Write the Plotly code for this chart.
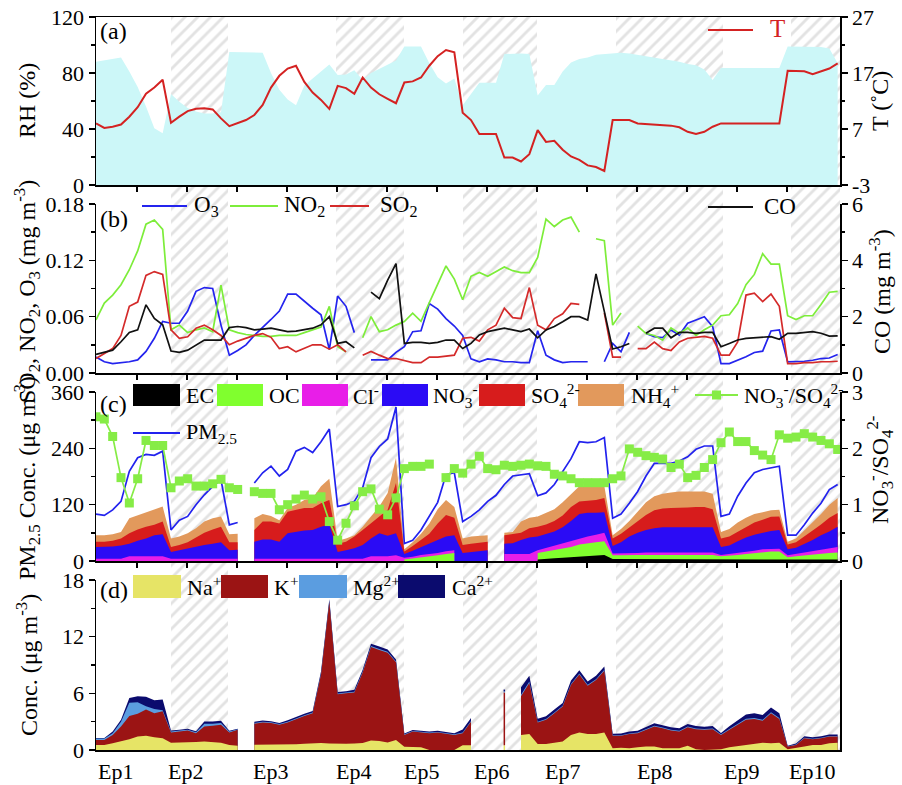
import plotly.graph_objects as go

N = 90
IDX = list(range(N))
FONT = "Liberation Serif"

# ---------------- panel (a) ----------------
RH = [88, 89, 90, 91, 81, 70, 56, 40.5, 37, 65,
      59.5, 55, 52.5, 51, 51, 52, 95, 95, 95, 95,
      94.5, 80, 68, 61, 57, 71, 76, 81, 86, 78.5,
      79, 82, 75, 80, 83, 86, 89, 99, 99, 99,
      87, 77, 72.5, 76, 57, 65, 73, 73, 73, 93.5,
      94, 94, 93.5, 64, 71.5, 71.5, 81, 87.5, 90, 91,
      93, 93.5, 94.5, 94.5, 94, 93, 92, 91.5, 90.5, 89,
      88, 86.5, 85.5, 82.5, 75, 83.5, 83.5, 83.5, 83.5, 83.5,
      83.5, 83.5, 83.5, 99, 99, 99, 99, 98.5, 97.5, 87]
T = [8.0, 7.2, 7.4, 7.8, 9.2, 10.9, 13.3, 14.4, 15.8, 8.1,
     9.2, 10.2, 10.6, 10.7, 10.5, 8.9, 7.5, 8.0, 8.6, 9.5,
     11.3, 14.4, 16.5, 17.8, 18.3, 15.4, 13.5, 12.2, 10.6, 14.7,
     14.3, 13.3, 16.2, 14.4, 13.2, 12.4, 11.6, 15.3, 15.5, 16.2,
     18.3, 20.0, 21.1, 20.7, 9.9, 8.6, 6.1, 6.1, 6.1, 1.9,
     1.9, 1.2, 2.5, 6.8, 4.7, 4.9, 3.3, 2.1, 1.5, 0.5,
     0.2, -0.5, 8.6, 8.6, 8.6, 8.0, 7.9, 7.9, 7.8, 7.6,
     7.3, 6.5, 6.1, 6.5, 7.4, 8.0, 8.0, 8.0, 8.0, 8.0,
     8.0, 8.0, 8.0, 17.4, 17.4, 17.3, 16.8, 17.3, 17.8, 18.7]

# ---------------- panel (b) ----------------
O3 = [0.017, 0.012, 0.010, 0.011, 0.012, 0.014, 0.023, 0.037, 0.055, 0.053,
      0.053, 0.066, 0.087, 0.091, 0.090, 0.051, 0.019, 0.024, 0.030, 0.040,
      0.048, 0.057, 0.066, 0.084, 0.084, 0.076, 0.069, 0.062, 0.025, 0.082,
      0.071, 0.043, None, 0.014, 0.014, 0.014, 0.022, 0.028, 0.044, 0.045,
      0.074, 0.068, 0.058, 0.050, 0.040, 0.015, 0.012, 0.015, 0.014, 0.012,
      0.012, 0.011, 0.011, 0.045, 0.019, 0.014, 0.011, 0.012, 0.012, 0.012,
      None, 0.012, 0.0315, 0.0225, 0.0433, None, 0.0422, 0.0386, 0.0376, 0.0458,
      0.0404, 0.053, 0.0565, 0.060, 0.0494, 0.010, 0.010, 0.0136, 0.0172, 0.0218,
      0.0233, 0.0447, 0.0458, 0.0118, 0.0118, 0.0125, 0.0136, 0.0154, 0.016, 0.0197]
NO2 = [0.0565, 0.0745, 0.083, 0.094, 0.110, 0.130, 0.1585, 0.163, 0.153, 0.046,
       0.051, 0.043, 0.046, 0.048, 0.044, 0.0935, 0.046, 0.043, 0.041, 0.040,
       0.039, 0.039, 0.040, 0.040, 0.040, 0.043, 0.046, 0.049, 0.071, 0.028,
       0.0225, None, 0.0376, 0.060, 0.044, 0.046, 0.051, 0.0547, 0.0637, 0.055,
       0.075, 0.095, 0.114, 0.100, 0.078, 0.103, 0.107, 0.103, 0.108, 0.113,
       0.109, 0.107, 0.107, 0.123, 0.164, 0.156, 0.163, 0.166, 0.150, None,
       0.143, 0.141, 0.051, 0.064, None, 0.050, 0.042, 0.040, 0.035, 0.048,
       0.042, 0.048, 0.040, 0.046, 0.051, 0.061, 0.062, 0.074, 0.094, 0.105,
       0.127, 0.116, 0.116, 0.061, 0.057, 0.061, 0.061, 0.073, 0.086, 0.087]
SO2 = [0.0154, 0.0208, 0.026, 0.040, 0.071, 0.0755, 0.104, 0.108, 0.105, 0.046,
       0.037, 0.0386, 0.0476, 0.051, 0.046, 0.040, 0.030, 0.034, 0.037, 0.040,
       0.042, 0.038, 0.026, 0.028, 0.0225, 0.026, 0.030, 0.030, 0.0254, 0.030,
       0.0225, None, 0.019, 0.023, 0.019, 0.0154, 0.0154, 0.0136, 0.011, 0.011,
       0.017, 0.017, 0.018, 0.019, 0.037, 0.038, 0.034, 0.046, 0.051, 0.069,
       0.059, 0.058, 0.091, 0.051, 0.046, 0.058, 0.063, 0.074, 0.073, None,
       None, 0.064, 0.017, 0.017, None, 0.026, 0.026, 0.033, 0.026, 0.024,
       0.033, 0.037, 0.038, 0.039, 0.037, 0.019, 0.019, 0.033, 0.083, 0.085,
       0.076, 0.084, 0.071, 0.010, 0.010, 0.011, 0.011, 0.012, 0.012, 0.0125]
CO = [0.66, 0.73, 0.81, 1.11, 1.44, 1.53, 2.42, 1.94, 1.71, 0.78,
      0.73, 0.81, 0.99, 1.17, 1.17, 1.17, 1.61, 1.65, 1.61, 1.53,
      1.56, 1.59, 1.53, 1.47, 1.49, 1.53, 1.59, 1.71, 2.0, 1.05,
      1.11, 0.89, None, 2.87, 2.64, 3.3, 3.88, 1.05, 1.09, 1.09,
      1.05, 1.09, 1.17, 1.17, 0.87, 1.05, 1.35, 1.47, 1.53, 1.59,
      1.53, 1.47, 1.56, 1.25, 1.53, 1.65, 1.82, 2.0, 2.0, 1.88,
      3.52, 2.18, 0.85, 0.93, 1.05, None, 1.41, 1.59, 1.59, 1.25,
      1.44, 1.44, 1.41, 1.44, 1.44, 0.93, 1.05, 1.17, 1.23, 1.25,
      1.25, 1.29, 1.2, 1.41, 1.41, 1.44, 1.47, 1.41, 1.31, 1.32]

# ---------------- panel (c) ----------------
EC = [None] * 53 + [3, 5, 6, 7, 8, 10, 11, 12, 13,
                    4, 4, 4, 4, 4, 4, 4, 4, 4, 4, 4, 4, 4,
                    3, 3, 3, 3, 3, 3, 3, 3,
                    3, 3, 3, 3, 3, 3, 3]
OC = ([None] * 37 + [3, 5, 8, 10, 12, 15, 17] + [None] * 9
      + [14, 15, 18, 20, 22, 25, 27, 28, 29]
      + [8, 8, 9, 9, 9, 9, 9, 9, 9, 9, 9, 9, 9]
      + [7, 8, 10, 12, 14, 16, 17, 17] + [5, 7, 9, 10, 12, 14, 15])
CL = ([5, 5, 5, 5, 10, 10, 10, 10, 10, 5, 5, 5, 5, 5, 5, 5, 5, 5] + [None]
      + [5, 5, 5, 5, 5, 5, 5, 5, 5, 5, 5, 5, 5, 5, 10, 10, 10, 12]
      + [4, 4, 5, 5, 5, 6, 6] + [None] * 5 + [15, 15, 15, 15]
      + [6, 8, 9, 11, 12, 13, 14, 16, 18]
      + [4, 4, 4, 4, 5, 5, 5, 5, 5, 5, 5, 5, 5]
      + [3, 4, 4, 5, 5, 6, 6, 6] + [4, 5, 6, 8, 9, 11, 12])
NO3 = ([25, 25, 26, 28, 27, 33, 38, 45, 47, 14, 18, 22, 25, 29, 32, 35, 18, 19] + [None]
       + [36, 41, 41, 36, 54, 57, 60, 61, 68, 73, 14, 18, 22, 29, 38, 49, 44, 47]
       + [8, 13, 17, 23, 28, 31, 32] + [17, 19, 21, 23] + [None] + [22, 23, 30, 35]
       + [29, 30, 30, 34, 43, 52, 51, 47, 44]
       + [16, 24, 35, 43, 48, 52, 54, 54, 54, 55, 55, 55, 54]
       + [17, 18, 25, 30, 34, 35, 38, 40] + [13, 13, 18, 24, 31, 35, 43])
SO4 = ([11, 11, 12, 15, 22, 24, 25, 22, 27, 11, 11, 13, 20, 26, 30, 33, 17, 16] + [None]
       + [25, 38, 38, 39, 46, 47, 48, 47, 50, 52, 18, 18, 25, 32, 32, 36, 55, 107]
       + [5, 10, 15, 20, 35, 46, 37] + [17, 18, 18, 18] + [None] + [18, 19, 15, 20]
       + [21, 20, 22, 25, 30, 27, 26, 27, 30]
       + [16, 18, 20, 24, 32, 38, 40, 41, 41, 41, 42, 42, 38]
       + [18, 19, 20, 22, 26, 28, 30, 29] + [10, 12, 16, 20, 23, 29, 29])
NH4 = ([14, 14, 14, 14, 32, 30, 30, 32, 32, 18, 18, 19, 20, 24, 24, 22, 17, 18] + [None]
       + [25, 16, 12, 7, 8, 11, 17, 21, 36, 45, 6, 7, 3, 7, 15, 21, 36, 54]
       + [5, 8, 13, 22, 30, 32, 23] + [14, 15, 14, 14] + [None] + [5, 5, 24, 22]
       + [22, 24, 25, 28, 26, 32, 30, 29, 26]
       + [7, 10, 13, 21, 27, 30, 31, 33, 35, 34, 33, 33, 33]
       + [14, 16, 20, 20, 18, 16, 14, 14] + [6, 8, 13, 17, 22, 28, 32])
PM25 = [100, 97, 109, 127, 191, 220, 227, 225, 234, 66,
        87, 95, 120, 141, 159, 173, 77, 82, None, 166,
        188, 202, 181, 195, 234, 242, 231, 254, 281, 116,
        120, 127, 156, 220, 244, 260, 328, 37, 44, 66,
        95, 125, 184, 188, 84, 95, 109, 127, 140, 163,
        181, 184, 186, 139, 145, 163, 191, 218, 254, 252,
        254, 263, 91, 100, 123, 148, 181, 208, 208, 208,
        213, 222, 238, 245, 245, 95, 100, 138, 166, 188,
        195, 199, 202, 55, 55, 77, 102, 123, 152, 163]
RATIO = [2.56, 2.52, 2.21, 1.48, 1.03, 1.46, 2.14, 2.05, 2.05, 1.30,
         1.42, 1.46, 1.33, 1.33, 1.37, 1.45, 1.30, 1.27, None, 1.23,
         1.20, 1.20, 0.91, 1.00, 1.10, 1.17, 1.10, 1.14, 0.70, 0.37,
         0.67, 0.98, 1.23, 1.28, 0.92, 0.82, 1.12, 1.64, 1.68, 1.68,
         1.72, None, 1.48, 1.64, 1.56, 1.72, 1.86, 1.64, 1.62, 1.70,
         1.68, 1.70, 1.72, 1.69, 1.68, 1.54, 1.51, 1.46, 1.39, 1.39,
         1.39, 1.39, 1.46, 1.51, 1.99, 1.93, 1.87, 1.84, 1.81, 1.66,
         1.72, 1.48, 1.52, 1.66, 1.80, 2.10, 2.29, 2.12, 2.12, 1.96,
         1.88, 1.80, 2.24, 2.18, 2.20, 2.26, 2.20, 2.14, 2.08, 1.98]

# ---------------- panel (d) ----------------
NA = ([0.53, 0.53, 0.71, 0.89, 1.14, 1.43, 1.5, 1.35, 1.25, 0.78, 0.78, 0.8, 0.85, 0.89, 0.85, 0.78, 0.53, 0.45]
      + [None]
      + [0.55, 0.55, 0.55, 0.55, 0.6, 0.62, 0.65, 0.7, 0.75, 0.7, 0.65, 0.65, 0.7, 0.75, 1.0, 0.95, 0.8, 1.05,
         0.35, 0.3, 0.3, 0, 0, 0, 0, 0.5, 0.5]
      + [None, None, None, 0.5, None]
      + [1.6, 1.7, 0.64, 0.64, 0.78, 0.9, 1.6, 1.85, 1.7, 1.7, 1.85, 0.18, 0.25, 0.18, 0.28, 0.36, 0.36,
         0.18, 0.18, 0.18, 0.46, 0.07, 0, 0, 0.07, 0.29, 0.43, 0.53, 0.64, 0.78, 0.71, 0.78,
         0.07, 0.18, 0.36, 0.53, 0.53, 0.71, 0.78])
K = ([0.54, 0.54, 0.89, 1.61, 2.46, 2.42, 2.78, 2.55, 2.85, 1.07, 1.18, 1.27, 0.93, 1.61, 1.72, 1.89, 1.32, 1.69]
     + [None]
     + [2.23, 2.37, 2.3, 2.12, 2.32, 2.66, 2.95, 3.2, 7.25, 15.0, 5.25, 5.35, 5.4, 7.45, 9.9, 9.65, 9.5, 8.25,
        1.25, 1.66, 1.55, 1.78, 1.85, 1.7, 1.6, 1.28, 2.5]
     + [None, None, None, 5.6, None]
     + [4.1, 5.4, 2.28, 2.56, 3.12, 3.7, 5.3, 6.15, 5.1, 5.7, 6.55, 1.32, 1.25, 1.52, 1.5, 1.78, 2.14,
        2.12, 1.89, 1.78, 1.96, 2.13, 2.14, 2.2, 1.53, 1.85, 2.24, 2.67, 2.64, 2.32, 3.19, 2.5,
        0.29, 0.35, 0.89, 0.61, 0.72, 0.72, 0.65])
MG = ([0.15, 0.15, 0.18, 0.5, 1.4, 1.2, 0.35, 0.45, 0.1, 0.11, 0.1, 0.08, 0.1, 0.28, 0.2, 0.18, 0.1, 0.06]
      + [None]
      + [0.08, 0.08, 0.08, 0.08, 0.08, 0.08, 0.08, 0.08, 0.1, 0.1, 0.08, 0.08, 0.08, 0.1, 0.1, 0.1, 0.1, 0.08,
         0.06, 0.06, 0.06, 0.06, 0.06, 0.06, 0.06, 0.08, 0.08]
      + [None, None, None, 0.1, None]
      + [0.15, 0.15, 0.08, 0.08, 0.08, 0.08, 0.1, 0.1, 0.1, 0.1, 0.1, 0.06, 0.06, 0.06, 0.06,
         0.08, 0.08, 0.08, 0.08, 0.08, 0.08, 0.08, 0.08, 0.08, 0.06, 0.08, 0.1, 0.1, 0.1, 0.1, 0.1, 0.1,
         0.04, 0.05, 0.06, 0.06, 0.06, 0.06, 0.06])
CA = ([0.05, 0.05, 0.18, 0.2, 0.5, 0.65, 1.0, 0.92, 1.15, 0.11, 0.08, 0.1, 0.1, 0.25, 0.26, 0.25, 0.08, 0.05]
      + [None]
      + [0.12, 0.12, 0.12, 0.12, 0.15, 0.15, 0.15, 0.15, 0.2, 0.15, 0.15, 0.15, 0.2, 0.2, 0.25, 0.25, 0.25, 0.2,
         0.1, 0.1, 0.1, 0.12, 0.12, 0.12, 0.12, 0.3, 0.3]
      + [None, None, None, 0.2, None]
      + [0.8, 0.6, 0.3, 0.3, 0.3, 0.3, 0.35, 0.35, 0.35, 0.35, 0.35, 0.15, 0.2, 0.2, 0.2, 0.25, 0.25,
         0.25, 0.25, 0.25, 0.25, 0.25, 0.25, 0.25, 0.15, 0.3, 0.4, 0.45, 0.5, 0.5, 0.5, 0.5,
         0.05, 0.1, 0.15, 0.15, 0.15, 0.15, 0.15])

# episodes (hatched) and episode labels
HATCH_START = [9.0, 28.8, 44.04, 62.4, 83.4]
HATCH_END = [15.84, 36.96, 52.9, 75.24, 89.3]
EP_LABELS = ["Ep1", "Ep2", "Ep3", "Ep4", "Ep5", "Ep6", "Ep7", "Ep8", "Ep9", "Ep10"]
EP_POS = [2.28, 10.68, 20.88, 30.84, 39.1, 47.4, 56.0, 66.96, 77.4, 85.9]
XTICKS = [4.92 + 6 * k for k in range(14)]
XR = [0, 89.28]

for name, arr in [("RH", RH), ("T", T), ("O3", O3), ("NO2", NO2), ("SO2", SO2), ("CO", CO),
                  ("EC", EC), ("OC", OC), ("CL", CL), ("NO3", NO3), ("SO4", SO4), ("NH4", NH4),
                  ("PM25", PM25), ("RATIO", RATIO), ("NA", NA), ("K", K), ("MG", MG), ("CA", CA)]:
    assert len(arr) == N, (name, len(arr))

# colours
RH_C, T_C = "#ccf7f8", "#d42222"
O3_C, NO2_C, SO2_C, CO_C = "#2424ee", "#7ded3a", "#d42a2a", "#111111"
C_STACK = ["#000000", "#80ff2e", "#e81ee8", "#2b0bf5", "#d71c1c", "#e2995c"]
PM_C, RAT_C = "#2222ee", "#86ec46"
D_STACK = ["#e6e466", "#9b1414", "#5b9de0", "#0b0b6e"]

fig = go.Figure()

# hatched episode background (spans all panels)
fig.add_trace(go.Bar(
    x=[(a + b) / 2 for a, b in zip(HATCH_START, HATCH_END)],
    y=[1] * len(HATCH_START), base=0,
    width=[b - a for a, b in zip(HATCH_START, HATCH_END)],
    marker=dict(color="white", line=dict(width=0),
                pattern=dict(shape="/", fgcolor="#c6c6c6", bgcolor="white", size=9, solidity=0.32)),
    xaxis="x", yaxis="y", hoverinfo="skip", showlegend=False))

# panel (a)
fig.add_trace(go.Scatter(x=IDX, y=RH, mode="lines", fill="tozeroy", fillcolor=RH_C,
                         line=dict(width=0, color=RH_C), xaxis="x2", yaxis="y2", showlegend=False))
fig.add_trace(go.Scatter(x=IDX, y=T, mode="lines", line=dict(color=T_C, width=2),
                         xaxis="x2", yaxis="y3", showlegend=False))

# panel (b)
for arr, col in [(O3, O3_C), (NO2, NO2_C), (SO2, SO2_C)]:
    fig.add_trace(go.Scatter(x=IDX, y=arr, mode="lines", line=dict(color=col, width=1.7),
                             xaxis="x3", yaxis="y4", showlegend=False))
fig.add_trace(go.Scatter(x=IDX, y=CO, mode="lines", line=dict(color=CO_C, width=1.7),
                         xaxis="x3", yaxis="y5", showlegend=False))


def cumulate(layers):
    run = [0.0] * N
    tops = []
    for arr in layers:
        top = []
        for i, v in enumerate(arr):
            if v is None:
                top.append(None)
            else:
                run[i] += v
                top.append(run[i])
        tops.append(top)
    return tops


def runs(arr):
    out, start = [], None
    for i, v in enumerate(arr + [None]):
        if v is not None and start is None:
            start = i
        elif v is None and start is not None:
            out.append((start, i - 1))
            start = None
    return out


def add_stack(layers, colors, xa, ya):
    tops = cumulate(layers)
    for k in reversed(range(len(layers))):
        for a, b in runs(layers[k]):
            if b > a:
                fig.add_trace(go.Scatter(x=IDX[a:b + 1], y=tops[k][a:b + 1], mode="lines",
                                         fill="tozeroy", fillcolor=colors[k],
                                         line=dict(width=0, color=colors[k]),
                                         xaxis=xa, yaxis=ya, hoverinfo="skip", showlegend=False))
    for k in range(len(layers)):
        for a, b in runs(layers[k]):
            if a == b and layers[k][a]:
                fig.add_trace(go.Scatter(x=[a, a], y=[tops[k][a] - layers[k][a], tops[k][a]],
                                         mode="lines", line=dict(color=colors[k], width=1.5),
                                         xaxis=xa, yaxis=ya, hoverinfo="skip", showlegend=False))


# panel (c)
add_stack([EC, OC, CL, NO3, SO4, NH4], C_STACK, "x4", "y6")
fig.add_trace(go.Scatter(x=IDX, y=PM25, mode="lines", line=dict(color=PM_C, width=1.7),
                         xaxis="x4", yaxis="y6", showlegend=False))
fig.add_trace(go.Scatter(x=IDX, y=RATIO, mode="lines+markers", line=dict(color=RAT_C, width=1.7),
                         marker=dict(symbol="square", size=9, color=RAT_C),
                         xaxis="x4", yaxis="y7", showlegend=False))

# panel (d)
add_stack([NA, K, MG, CA], D_STACK, "x5", "y8")

# ---------------- layout ----------------
L, R, TOP, BOT = 96, 62, 17, 35
W, H = 902, 785
PH = H - TOP - BOT


def PX(px):
    return (px - L) / (W - L - R)


def PY(py):
    return (H - BOT - py) / PH


TICKF = dict(family=FONT, size=22, color="black")


def xaxis(anchor, mirror=False, ticks=True):
    d = dict(domain=[0, 1], anchor=anchor, range=XR, showline=True, linecolor="black",
             linewidth=1.5, mirror=mirror, showgrid=False, zeroline=False, automargin=False,
             showticklabels=False)
    if ticks:
        d.update(tickvals=XTICKS, ticks="outside", ticklen=5, tickwidth=1.5, tickcolor="black")
    else:
        d.update(ticks="")
    return d


def yaxis(domain, rng, tv, tt, mdt, anchor, side="left", overlaying=None, mirror=False):
    d = dict(range=rng, tickvals=tv, ticktext=tt, ticks="outside", ticklen=6, tickwidth=1.5,
             tickcolor="black", tickfont=TICKF, showline=True, linecolor="black", linewidth=1.5,
             showgrid=False, zeroline=False, anchor=anchor, side=side, mirror=mirror,
             automargin=False,
             minor=dict(dtick=mdt, tick0=rng[0], ticks="outside", ticklen=3.5, tickwidth=1.5,
                        tickcolor="black", showgrid=False))
    if overlaying:
        d["overlaying"] = overlaying
    else:
        d["domain"] = domain
    return d


DA = [PY(185), 1.0]
DB = [PY(373), PY(204)]
DC = [PY(561), PY(392)]
DD = [0.0, PY(580)]

layout = dict(
    width=W, height=H, margin=dict(l=L, r=R, t=TOP, b=BOT, pad=0, autoexpand=False),
    paper_bgcolor="white", plot_bgcolor="rgba(0,0,0,0)", showlegend=False,
    font=dict(family=FONT, size=21, color="black"), bargap=0,
    xaxis=dict(domain=[0, 1], range=XR, visible=False, anchor="y", fixedrange=True, automargin=False),
    yaxis=dict(domain=[0, 1], range=[0, 1], visible=False, anchor="x", fixedrange=True, automargin=False),
    xaxis2=xaxis("y2", mirror=True),
    xaxis3=xaxis("y4"),
    xaxis4=xaxis("y6"),
    xaxis5=xaxis("y8", ticks=False),
    yaxis2=yaxis(DA, [0, 120], [0, 40, 80, 120], ["0", "40", "80", "120"], 20, "x2"),
    yaxis3=yaxis(None, [-3, 27], [-3, 7, 17, 27], ["-3", "7", "17", "27"], 5, "x2",
                 side="right", overlaying="y2"),
    yaxis4=yaxis(DB, [0, 0.18], [0, 0.06, 0.12, 0.18], ["0.00", "0.06", "0.12", "0.18"], 0.03, "x3"),
    yaxis5=yaxis(None, [0, 6], [0, 2, 4, 6], ["0", "2", "4", "6"], 1, "x3", side="right",
                 overlaying="y4"),
    yaxis6=yaxis(DC, [0, 360], [0, 120, 240, 360], ["0", "120", "240", "360"], 60, "x4"),
    yaxis7=yaxis(None, [0, 3], [0, 1, 2, 3], ["0", "1", "2", "3"], 0.5, "x4", side="right",
                 overlaying="y6"),
    yaxis8=yaxis(DD, [0, 18], [0, 6, 12, 18], ["0", "6", "12", "18"], 3, "x5", mirror=True),
)
fig.update_layout(**layout)

# ---------------- axis titles, legends & panel labels ----------------
shapes, annots = [], []


def leg_line(x0, x1, y, col, width=2):
    shapes.append(dict(type="line", xref="paper", yref="paper", x0=PX(x0), x1=PX(x1),
                       y0=PY(y), y1=PY(y), line=dict(color=col, width=width)))


def leg_rect(x0, x1, y0, y1, col):
    shapes.append(dict(type="rect", xref="paper", yref="paper", x0=PX(x0), x1=PX(x1),
                       y0=PY(y1), y1=PY(y0), fillcolor=col, line=dict(width=0)))


def text(x, y, s, col="black", size=22):
    annots.append(dict(xref="paper", yref="paper", x=PX(x), y=PY(y), text=s, showarrow=False,
                       xanchor="left", yanchor="middle",
                       font=dict(family=FONT, size=size, color=col)))


def vtitle(x, y, s, size=24):
    annots.append(dict(xref="paper", yref="paper", x=PX(x), y=PY(y), text=s, showarrow=False,
                       xanchor="center", yanchor="middle", textangle=-90,
                       font=dict(family=FONT, size=size, color="black")))


vtitle(27, 101, "RH (%)")
vtitle(880, 101, "T (˚C)")
vtitle(27, 292, "SO<sub>2</sub>, NO<sub>2</sub>, O<sub>3</sub> (mg m<sup>-3</sup>)")
vtitle(880, 292, "CO (mg m<sup>-3</sup>)")
vtitle(27, 478, "PM<sub>2.5</sub> Conc. (μg m<sup>-3</sup>)")
vtitle(880, 470, "NO<sub>3</sub><sup>-</sup>/SO<sub>4</sub><sup>2-</sup>")
vtitle(27, 665, "Conc. (μg m<sup>-3</sup>)")

# episode labels under panel (d)
for lab, pos in zip(EP_LABELS, EP_POS):
    annots.append(dict(xref="x5", yref="paper", x=pos, y=PY(771), text=lab, showarrow=False,
                       xanchor="center", yanchor="middle",
                       font=dict(family=FONT, size=22, color="black")))

# (a)
text(98, 31, "(a)", size=24)
leg_line(708, 753, 30, T_C)
text(768, 29, "T", col=T_C, size=25)
# (b)
text(98, 219, "(b)", size=24)
leg_line(142, 187, 206, O3_C)
text(192, 206, "O<sub>3</sub>", size=23)
leg_line(230, 278, 206, NO2_C)
text(282, 206, "NO<sub>2</sub>", size=23)
leg_line(330, 369, 206, SO2_C)
text(378, 206, "SO<sub>2</sub>", size=23)
leg_line(708, 753, 207, CO_C)
text(762, 207, "CO", size=23)
# (c)
text(98, 404, "(c)", size=24)
c_leg = [(133, 180, "EC", 184), (217, 263, "OC", 267), (302, 348, "Cl<sup>-</sup>", 351),
         (382, 428, "NO<sub>3</sub><sup>-</sup>", 431), (479, 525, "SO<sub>4</sub><sup>2-</sup>", 529),
         (578, 624, "NH<sub>4</sub><sup>+</sup>", 629)]
for (x0, x1, s, tx), col in zip(c_leg, C_STACK):
    leg_rect(x0, x1, 384, 406, col)
    text(tx, 395, s)
leg_line(695, 738, 395, RAT_C)
shapes.append(dict(type="rect", xref="paper", yref="paper", x0=PX(712), x1=PX(721),
                   y0=PY(399.5), y1=PY(390.5), fillcolor=RAT_C, line=dict(width=0)))
text(742, 395, "NO<sub>3</sub><sup>-</sup>/SO<sub>4</sub><sup>2-</sup>")
leg_line(133, 180, 433, PM_C)
text(184, 433, "PM<sub>2.5</sub>")
# (d)
text(98, 590, "(d)", size=24)
d_leg = [(133, 181, "Na<sup>+</sup>", 185), (221, 268, "K<sup>+</sup>", 272),
         (299, 347, "Mg<sup>2+</sup>", 351), (398, 445, "Ca<sup>2+</sup>", 450)]
for (x0, x1, s, tx), col in zip(d_leg, D_STACK):
    leg_rect(x0, x1, 575, 598, col)
    text(tx, 586, s)

fig.update_layout(shapes=shapes, annotations=annots)
fig.write_html("out.html", config={"displayModeBar": False, "staticPlot": True},
               post_script="document.body.style.margin='0';document.body.style.overflow='hidden';")
